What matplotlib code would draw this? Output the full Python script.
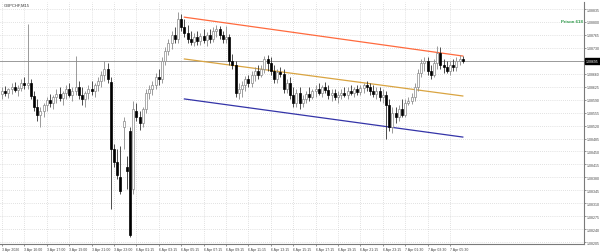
import numpy as np
import matplotlib
matplotlib.use('Agg')
import matplotlib.pyplot as plt

plt.rcParams['font.family'] = ['Liberation Sans', 'DejaVu Sans']

# GBPCHF M15 candles
opens = [1.08605, 1.08614, 1.08608, 1.08619, 1.08624, 1.08616, 1.08622, 1.08635, 1.08630, 1.08635,
         1.08600, 1.08570, 1.08549, 1.08560, 1.08576, 1.08589, 1.08581, 1.08597, 1.08605, 1.08595,
         1.08608, 1.08619, 1.08603, 1.08614, 1.08624, 1.08603, 1.08592, 1.08608, 1.08619, 1.08614,
         1.08630, 1.08641, 1.08657, 1.08673, 1.08638, 1.08457, 1.08422, 1.08381, 1.08516, 1.08408,
         1.08506, 1.08349, 1.08560, 1.08543, 1.08527, 1.08565, 1.08608, 1.08619, 1.08630, 1.08651,
         1.08646, 1.08695, 1.08722, 1.08743, 1.08765, 1.08754, 1.08808, 1.08786, 1.08770, 1.08754,
         1.08746, 1.08759, 1.08749, 1.08762, 1.08751, 1.08765, 1.08754, 1.08776, 1.08781, 1.08765,
         1.08754, 1.08759, 1.08695, 1.08684, 1.08608, 1.08619, 1.08630, 1.08646, 1.08635, 1.08657,
         1.08668, 1.08657, 1.08673, 1.08700, 1.08689, 1.08668, 1.08646, 1.08665, 1.08659, 1.08619,
         1.08635, 1.08603, 1.08581, 1.08608, 1.08581, 1.08592, 1.08605, 1.08597, 1.08614, 1.08619,
         1.08608, 1.08624, 1.08616, 1.08603, 1.08608, 1.08597, 1.08603, 1.08608, 1.08603, 1.08614,
         1.08608, 1.08619, 1.08611, 1.08622, 1.08630, 1.08624, 1.08614, 1.08605, 1.08614, 1.08597,
         1.08603, 1.08576, 1.08516, 1.08554, 1.08543, 1.08565, 1.08549, 1.08581, 1.08587, 1.08597,
         1.08624, 1.08662, 1.08689, 1.08695, 1.08668, 1.08657, 1.08689, 1.08716, 1.08684, 1.08678,
         1.08668, 1.08684, 1.08678, 1.08695, 1.08700]
highs = [1.08624, 1.08627, 1.08622, 1.08635, 1.08638, 1.08630, 1.08646, 1.08651, 1.08794, 1.08646,
         1.08614, 1.08592, 1.08570, 1.08581, 1.08597, 1.08605, 1.08603, 1.08619, 1.08624, 1.08614,
         1.08630, 1.08635, 1.08624, 1.08708, 1.08641, 1.08624, 1.08614, 1.08630, 1.08641, 1.08635,
         1.08651, 1.08668, 1.08695, 1.08689, 1.08651, 1.08470, 1.08457, 1.08465, 1.08543, 1.08438,
         1.08516, 1.08587, 1.08581, 1.08560, 1.08570, 1.08619, 1.08630, 1.08641, 1.08662, 1.08673,
         1.08705, 1.08732, 1.08754, 1.08776, 1.08786, 1.08827, 1.08822, 1.08808, 1.08792, 1.08776,
         1.08770, 1.08776, 1.08770, 1.08781, 1.08773, 1.08781, 1.08786, 1.08792, 1.08789, 1.08776,
         1.08789, 1.08767, 1.08713, 1.08695, 1.08635, 1.08641, 1.08654, 1.08657, 1.08668, 1.08678,
         1.08684, 1.08684, 1.08708, 1.08711, 1.08705, 1.08684, 1.08673, 1.08678, 1.08673, 1.08646,
         1.08651, 1.08624, 1.08619, 1.08624, 1.08603, 1.08614, 1.08624, 1.08619, 1.08630, 1.08635,
         1.08630, 1.08638, 1.08630, 1.08619, 1.08619, 1.08614, 1.08619, 1.08624, 1.08624, 1.08630,
         1.08624, 1.08630, 1.08630, 1.08635, 1.08641, 1.08635, 1.08630, 1.08624, 1.08624, 1.08619,
         1.08614, 1.08592, 1.08570, 1.08570, 1.08576, 1.08592, 1.08592, 1.08597, 1.08608, 1.08635,
         1.08673, 1.08700, 1.08705, 1.08705, 1.08684, 1.08700, 1.08735, 1.08732, 1.08700, 1.08695,
         1.08695, 1.08700, 1.08705, 1.08711, 1.08708]
lows = [1.08592, 1.08600, 1.08595, 1.08605, 1.08611, 1.08600, 1.08614, 1.08619, 1.08619, 1.08592,
        1.08560, 1.08533, 1.08516, 1.08543, 1.08560, 1.08570, 1.08565, 1.08581, 1.08587, 1.08576,
        1.08592, 1.08597, 1.08587, 1.08603, 1.08592, 1.08576, 1.08570, 1.08592, 1.08603, 1.08597,
        1.08614, 1.08624, 1.08641, 1.08635, 1.08295, 1.08408, 1.08376, 1.08335, 1.08457, 1.08349,
        1.08219, 1.08335, 1.08533, 1.08508, 1.08516, 1.08554, 1.08592, 1.08603, 1.08619, 1.08630,
        1.08635, 1.08684, 1.08711, 1.08727, 1.08743, 1.08743, 1.08776, 1.08759, 1.08743, 1.08738,
        1.08735, 1.08738, 1.08738, 1.08743, 1.08735, 1.08743, 1.08746, 1.08759, 1.08754, 1.08743,
        1.08743, 1.08684, 1.08673, 1.08597, 1.08592, 1.08597, 1.08614, 1.08624, 1.08624, 1.08641,
        1.08646, 1.08651, 1.08662, 1.08668, 1.08657, 1.08635, 1.08635, 1.08651, 1.08608, 1.08608,
        1.08592, 1.08570, 1.08570, 1.08565, 1.08570, 1.08581, 1.08587, 1.08592, 1.08597, 1.08603,
        1.08597, 1.08608, 1.08592, 1.08587, 1.08589, 1.08581, 1.08592, 1.08597, 1.08592, 1.08603,
        1.08597, 1.08603, 1.08603, 1.08608, 1.08614, 1.08603, 1.08597, 1.08592, 1.08587, 1.08581,
        1.08484, 1.08506, 1.08500, 1.08527, 1.08533, 1.08543, 1.08543, 1.08576, 1.08578, 1.08587,
        1.08614, 1.08651, 1.08668, 1.08657, 1.08646, 1.08651, 1.08673, 1.08673, 1.08662, 1.08662,
        1.08657, 1.08668, 1.08668, 1.08684, 1.08689]
closes = [1.08614, 1.08608, 1.08619, 1.08624, 1.08616, 1.08622, 1.08635, 1.08630, 1.08635, 1.08600,
          1.08570, 1.08549, 1.08560, 1.08576, 1.08589, 1.08581, 1.08597, 1.08605, 1.08595, 1.08608,
          1.08619, 1.08603, 1.08614, 1.08624, 1.08603, 1.08592, 1.08608, 1.08619, 1.08614, 1.08630,
          1.08641, 1.08657, 1.08673, 1.08646, 1.08457, 1.08422, 1.08387, 1.08344, 1.08533, 1.08398,
          1.08225, 1.08565, 1.08543, 1.08527, 1.08565, 1.08608, 1.08619, 1.08630, 1.08651, 1.08646,
          1.08695, 1.08722, 1.08743, 1.08765, 1.08754, 1.08808, 1.08786, 1.08770, 1.08754, 1.08746,
          1.08759, 1.08749, 1.08762, 1.08751, 1.08765, 1.08754, 1.08776, 1.08781, 1.08765, 1.08754,
          1.08759, 1.08695, 1.08684, 1.08608, 1.08619, 1.08630, 1.08646, 1.08635, 1.08657, 1.08668,
          1.08657, 1.08673, 1.08700, 1.08689, 1.08668, 1.08646, 1.08665, 1.08659, 1.08619, 1.08635,
          1.08603, 1.08581, 1.08608, 1.08581, 1.08592, 1.08605, 1.08597, 1.08614, 1.08619, 1.08608,
          1.08624, 1.08616, 1.08603, 1.08608, 1.08597, 1.08603, 1.08608, 1.08603, 1.08614, 1.08608,
          1.08619, 1.08611, 1.08622, 1.08630, 1.08624, 1.08614, 1.08605, 1.08614, 1.08597, 1.08603,
          1.08576, 1.08516, 1.08554, 1.08543, 1.08565, 1.08549, 1.08581, 1.08587, 1.08597, 1.08624,
          1.08662, 1.08689, 1.08695, 1.08668, 1.08657, 1.08689, 1.08716, 1.08684, 1.08678, 1.08668,
          1.08684, 1.08678, 1.08695, 1.08700, 1.08695]

# channel drawn on the chart (bar index -> price)
channel_x = [57, 144]
upper_line = [1.08813, 1.08708]
middle_line = [1.08700, 1.08600]
lower_line = [1.08592, 1.08489]

price_ticks = [1.08835, 1.08800, 1.08765, 1.08730, 1.08695, 1.08660, 1.08625, 1.08590, 1.08555,
               1.08520, 1.08485, 1.08450, 1.08415, 1.08380, 1.08345, 1.08310, 1.08275, 1.08240, 1.08205]
last_price = 1.08695

time_labels = ['3 Apr 2026', '3 Apr 16:00', '3 Apr 17:00', '3 Apr 19:00', '3 Apr 21:00',
               '3 Apr 23:00', '6 Apr 01:15', '6 Apr 03:15', '6 Apr 05:15', '6 Apr 07:15',
               '6 Apr 09:15', '6 Apr 11:15', '6 Apr 13:15', '6 Apr 15:15', '6 Apr 17:15',
               '6 Apr 19:15', '6 Apr 21:15', '6 Apr 23:15', '7 Apr 01:30', '7 Apr 03:30',
               '7 Apr 05:30']
bars_per_label = 7

o = np.array(opens)
h = np.array(highs)
l = np.array(lows)
c = np.array(closes)
x = np.arange(len(o))
up = c >= o

fig = plt.figure(figsize=(6, 2.53), dpi=100)
ax = fig.add_axes([0.0, 8 / 253, 584 / 600, 242 / 253])

# wicks
ax.vlines(x[up], l[up], h[up], color='#8a8a8a', lw=0.6, zorder=2)
ax.vlines(x[~up], l[~up], h[~up], color='#303030', lw=0.6, zorder=2)

# bodies
body_lo = np.minimum(o, c)
body_h = np.maximum(np.abs(c - o), 0.000012)
ax.bar(x[up], body_h[up], bottom=body_lo[up], width=0.66, color='white',
       edgecolor='#8a8a8a', lw=0.5, zorder=3)
ax.bar(x[~up], body_h[~up], bottom=body_lo[~up], width=0.66, color='black',
       edgecolor='black', lw=0.5, zorder=3)

# channel lines
ax.plot(channel_x, upper_line, color='#ff6a3d', lw=0.9, zorder=1.5)
ax.plot(channel_x, middle_line, color='#d9a441', lw=0.9, zorder=1.5)
ax.plot(channel_x, lower_line, color='#3434a8', lw=0.9, zorder=1.5)

# current price line
ax.axhline(last_price, color='#9a9a9a', lw=0.7, zorder=1)

ax.set_xlim(-0.625, 181.875)
ax.set_ylim(1.08200, 1.08854)

# axes look
ax.yaxis.tick_right()
ax.set_yticks(price_ticks)
ax.set_yticklabels(['' if abs(p - last_price) < 1e-7 else f'{p:.5f}' for p in price_ticks])
xt = [k * bars_per_label for k in range(len(time_labels))]
ax.set_xticks(xt)
ax.set_xticklabels(time_labels, ha='left')
ax.tick_params(axis='both', labelsize=2.5, colors='#444444', length=1.5, width=0.4, pad=0.8)
ax.grid(True, color='#c6c6c6', lw=0.5, linestyle=(0, (1, 2)))
ax.set_axisbelow(True)
for side in ['left', 'top']:
    ax.spines[side].set_visible(False)
for side in ['right', 'bottom']:
    ax.spines[side].set_color('#7a7a7a')
    ax.spines[side].set_linewidth(0.8)

# last price box on the price scale
ax.text(1.003, last_price, f'{last_price:.5f}', transform=ax.get_yaxis_transform(),
        fontsize=2.5, color='white', va='center', ha='left',
        bbox=dict(boxstyle='square,pad=0.3', fc='black', ec='black'))

fig.text(4 / 600, 1 - 6 / 253, 'GBPCHF,M15', fontsize=3.0, color='#333333', va='center')
fig.text(583 / 600, 1 - 22 / 253, 'Prison 618', fontsize=3.2, color='#2e9a4a',
         fontweight='bold', va='center', ha='right')

fig.savefig('out.png', dpi=100)
